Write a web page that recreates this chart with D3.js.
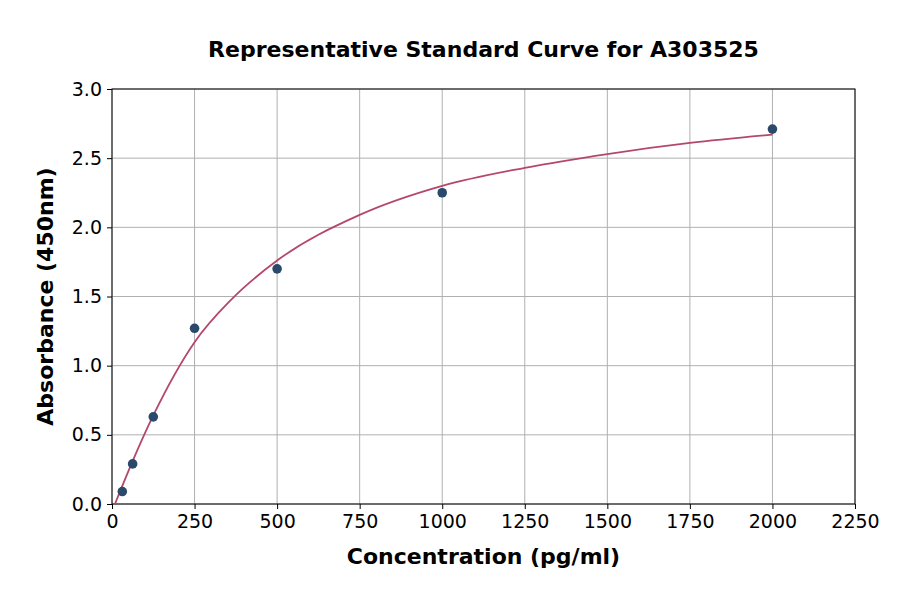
<!DOCTYPE html>
<html>
<head>
<meta charset="utf-8">
<script src="https://cdn.jsdelivr.net/npm/d3@7"></script>
<style>
  body { margin: 0; background: #fff; }
  svg { display: block; font-family: "DejaVu Sans", sans-serif; }
</style>
</head>
<body>
<div id="chart"></div>
<script>
// ---- data ----
const stdConc = [31.25, 62.5, 125, 250, 500, 1000, 2000];
const stdAbs = [0.09, 0.29, 0.63, 1.27, 1.70, 2.25, 2.71];

// fitted curve
const fitConc = [9, 62.5, 125, 250, 362, 500, 750, 1000, 1250, 1500, 1750, 2000];
const fitAbs = [0, 0.31, 0.64, 1.17, 1.48, 1.76, 2.09, 2.30, 2.43, 2.53, 2.61, 2.67];

const xTicks = [0, 250, 500, 750, 1000, 1250, 1500, 1750, 2000, 2250];
const yTicks = [0.0, 0.5, 1.0, 1.5, 2.0, 2.5, 3.0];

const width = 900, height = 594;
const margin = { top: 89, right: 45, bottom: 90, left: 112 };

const svg = d3.select("#chart").append("svg")
    .attr("width", width)
    .attr("height", height);

const x = d3.scaleLinear().domain([0, 2250]).range([margin.left, width - margin.right]);
const y = d3.scaleLinear().domain([0, 3]).range([height - margin.bottom, margin.top]);

// grid
svg.append("g")
    .selectAll("line")
    .data(xTicks)
    .join("line")
    .attr("x1", d => x(d)).attr("x2", d => x(d))
    .attr("y1", y(0)).attr("y2", y(3))
    .attr("stroke", "#b0b0b0").attr("stroke-width", 1);

svg.append("g")
    .selectAll("line")
    .data(yTicks)
    .join("line")
    .attr("x1", x(0)).attr("x2", x(2250))
    .attr("y1", d => y(d)).attr("y2", d => y(d))
    .attr("stroke", "#b0b0b0").attr("stroke-width", 1);

// axes
const xAxis = svg.append("g")
    .attr("transform", `translate(0,${y(0)})`)
    .call(d3.axisBottom(x).tickValues(xTicks).tickFormat(d3.format("d"))
        .tickSizeOuter(0).tickSize(5).tickPadding(6));

const yAxis = svg.append("g")
    .attr("transform", `translate(${x(0)},0)`)
    .call(d3.axisLeft(y).tickValues(yTicks).tickFormat(d3.format(".1f"))
        .tickSizeOuter(0).tickSize(5).tickPadding(5));

[xAxis, yAxis].forEach(a => {
    a.selectAll("text").attr("font-size", 19).attr("fill", "#000")
        .attr("font-family", "DejaVu Sans, sans-serif");
    a.selectAll("line").attr("stroke", "#000");
    a.select(".domain").remove();
});

// frame
svg.append("rect")
    .attr("x", x(0)).attr("y", y(3))
    .attr("width", x(2250) - x(0)).attr("height", y(0) - y(3))
    .attr("fill", "none").attr("stroke", "#000").attr("stroke-width", 1);

// fitted curve
const line = d3.line()
    .x((d, i) => x(fitConc[i]))
    .y(d => y(d))
    .curve(d3.curveMonotoneX);

svg.append("path")
    .datum(fitAbs)
    .attr("d", line)
    .attr("fill", "none")
    .attr("stroke", "#b5476b")
    .attr("stroke-width", 1.8);

// standards
svg.append("g")
    .selectAll("circle")
    .data(stdAbs)
    .join("circle")
    .attr("cx", (d, i) => x(stdConc[i]))
    .attr("cy", d => y(d))
    .attr("r", 4.8)
    .attr("fill", "#2b4a6b");

// titles
svg.append("text")
    .attr("x", (x(0) + x(2250)) / 2).attr("y", 57)
    .attr("text-anchor", "middle")
    .attr("font-size", 22).attr("font-weight", "bold")
    .text("Representative Standard Curve for A303525");

svg.append("text")
    .attr("x", (x(0) + x(2250)) / 2).attr("y", 564)
    .attr("text-anchor", "middle")
    .attr("font-size", 22).attr("font-weight", "bold")
    .text("Concentration (pg/ml)");

svg.append("text")
    .attr("transform", `translate(53,${(y(0) + y(3)) / 2}) rotate(-90)`)
    .attr("text-anchor", "middle")
    .attr("font-size", 22).attr("font-weight", "bold")
    .text("Absorbance (450nm)");
</script>
</body>
</html>
